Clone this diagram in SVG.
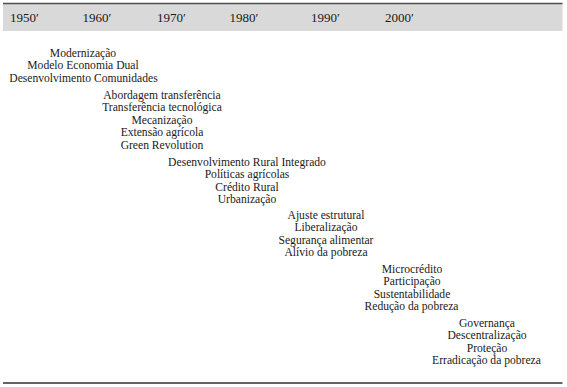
<svg xmlns="http://www.w3.org/2000/svg" width="567" height="387" viewBox="0 0 567 387">
<style>
.t{font-family:"Liberation Serif","Times New Roman",serif;font-size:11.6px;fill:#1a1a1a;text-anchor:middle}
.h{font-family:"Liberation Serif","Times New Roman",serif;font-size:13px;fill:#1a1a1a}
</style>
<rect width="567" height="387" fill="#ffffff"/>
<g id="header">
<rect x="3" y="3" width="559.5" height="28" fill="#d9d9d9"/>
<line x1="3" y1="3.5" x2="562.5" y2="3.5" stroke="#505050" stroke-width="1.5"/>
<text class="h" x="10" y="21.5">1950′</text>
<text class="h" x="82.5" y="21.5">1960′</text>
<text class="h" x="157" y="21.5">1970′</text>
<text class="h" x="229.5" y="21.5">1980′</text>
<text class="h" x="311" y="21.5">1990′</text>
<text class="h" x="385" y="21.5">2000′</text>
</g>
<g id="g1950">
<text class="t" x="83" y="56.5">Modernização</text>
<text class="t" x="83" y="69">Modelo Economia Dual</text>
<text class="t" x="83.5" y="81.5">Desenvolvimento Comunidades</text>
</g>
<g id="g1960">
<text class="t" x="162" y="98.5">Abordagem transferência</text>
<text class="t" x="162" y="111">Transferência tecnológica</text>
<text class="t" x="162" y="123.5">Mecanização</text>
<text class="t" x="162" y="136">Extensão agrícola</text>
<text class="t" x="162" y="148.5">Green Revolution</text>
</g>
<g id="g1970">
<text class="t" x="247" y="165.5">Desenvolvimento Rural Integrado</text>
<text class="t" x="247" y="178">Políticas agrícolas</text>
<text class="t" x="247" y="190.5">Crédito Rural</text>
<text class="t" x="247" y="203">Urbanização</text>
</g>
<g id="g1980">
<text class="t" x="326" y="218.5">Ajuste estrutural</text>
<text class="t" x="326" y="231">Liberalização</text>
<text class="t" x="326" y="243.5">Segurança alimentar</text>
<text class="t" x="326" y="256">Alívio da pobreza</text>
</g>
<g id="g1990">
<text class="t" x="412" y="272.5">Microcrédito</text>
<text class="t" x="412" y="285">Participação</text>
<text class="t" x="412" y="297.5">Sustentabilidade</text>
<text class="t" x="411.5" y="310">Redução da pobreza</text>
</g>
<g id="g2000">
<text class="t" x="487" y="326.5">Governança</text>
<text class="t" x="487" y="339">Descentralização</text>
<text class="t" x="487" y="351.5">Proteção</text>
<text class="t" x="486.5" y="364">Erradicação da pobreza</text>
</g>
<g id="connectors">
<line x1="3" y1="383" x2="562.5" y2="383" stroke="#303030" stroke-width="1.4"/>
</g>
</svg>
